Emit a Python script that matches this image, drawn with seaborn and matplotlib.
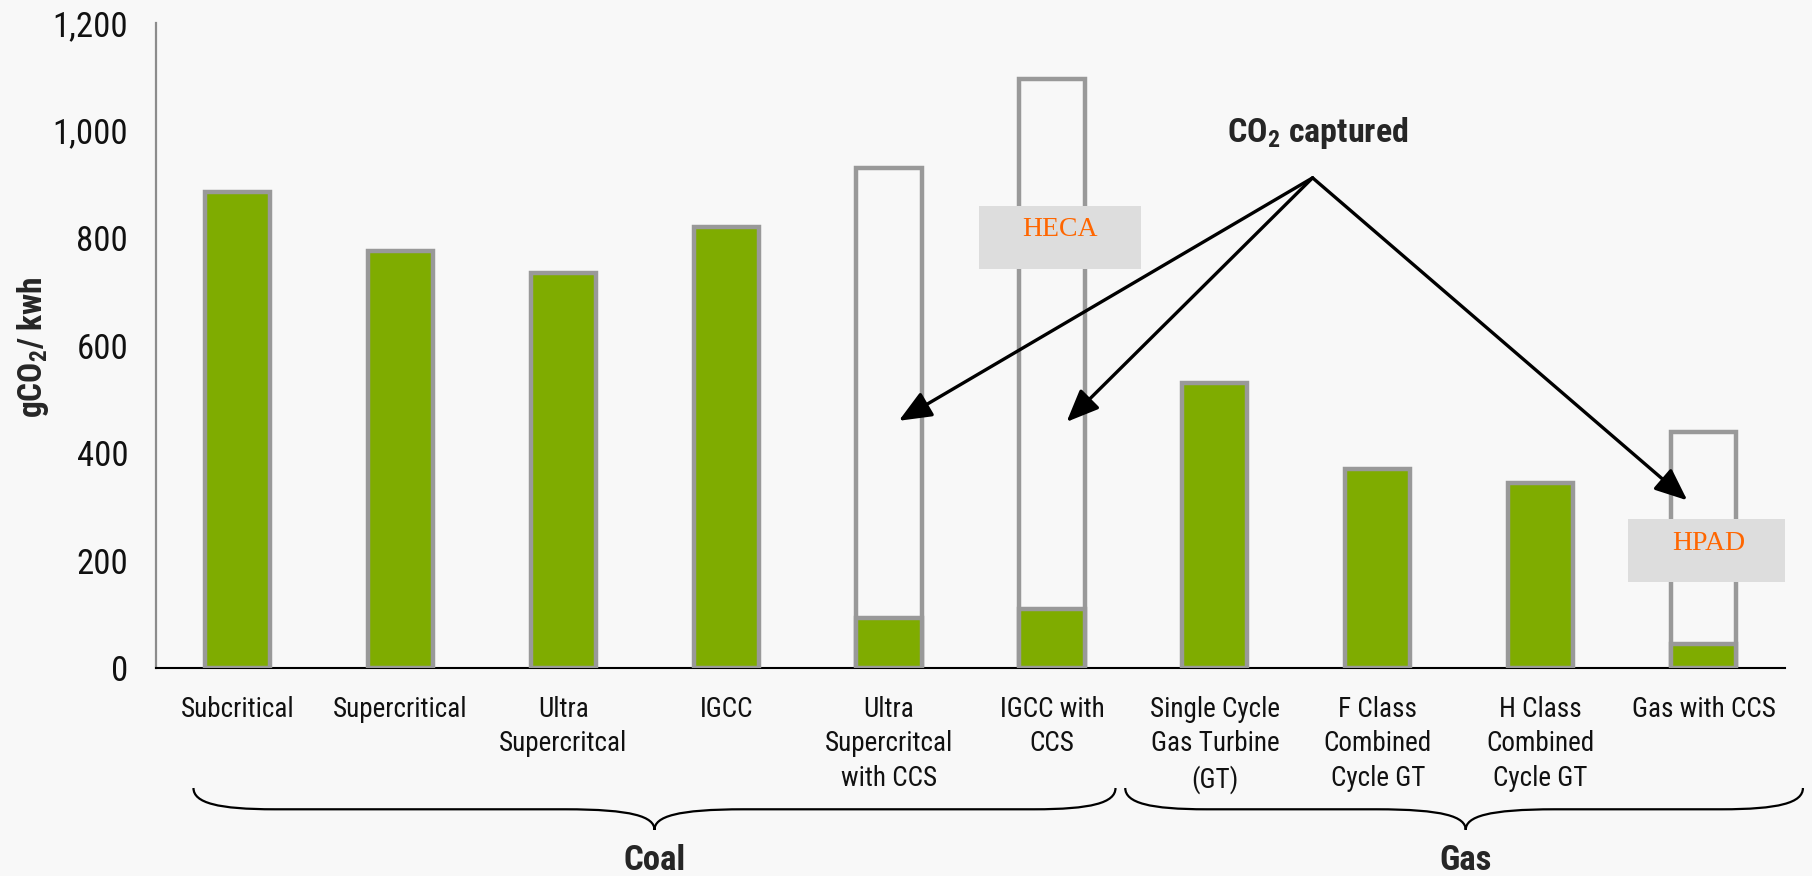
import numpy as np
import pandas as pd
import matplotlib
matplotlib.use("Agg")
import matplotlib.pyplot as plt
import matplotlib.transforms as mtransforms
from matplotlib import font_manager as fm
from matplotlib.path import Path
from matplotlib.patches import PathPatch, Rectangle
import seaborn as sns

# ---- data -------------------------------------------------------------
categories = [
    "Subcritical", "Supercritical", "Ultra\nSupercritcal", "IGCC",
    "Ultra\nSupercritcal\nwith CCS", "IGCC with\nCCS",
    "Single Cycle\nGas Turbine\n(GT)", "F Class\nCombined\nCycle GT",
    "H Class\nCombined\nCycle GT", "Gas with CCS",
]
# emissions to atmosphere (gCO2 / kWh)
emitted = [885, 775, 735, 820, 93, 110, 530, 370, 345, 45]
# gross CO2 produced before capture (only for CCS plants)
before_capture = [np.nan, np.nan, np.nan, np.nan, 930, 1095,
                  np.nan, np.nan, np.nan, 440]
fuel_groups = ["Coal", "Gas"]
yticks = [0, 200, 400, 600, 800, 1000, 1200]
project_labels = ["HECA", "HPAD"]

# ---- style ------------------------------------------------------------
BG = "#F8F8F8"
GREEN = "#7FAC00"
GRAY = "#999999"
BOXGRAY = "#DDDDDD"
ORANGE = "#FF6600"

sns.set_theme(style="white")


def narrow_sans():
    """Pick the narrowest sans-serif face that is installed."""
    entries = fm.fontManager.ttflist
    names = {f.name for f in entries}
    for name in ["Liberation Sans Narrow", "Arial Narrow", "Nimbus Sans Narrow",
                 "Roboto Condensed", "Open Sans Condensed", "Noto Sans Condensed",
                 "DejaVu Sans Condensed"]:
        if name in names:
            return name, "normal"
    for f in entries:
        if ("Narrow" in f.name or "Condensed" in f.name) and "Serif" not in f.name \
                and "Mono" not in f.name:
            return f.name, "normal"
    for fam in ["Roboto", "Noto Sans", "Open Sans"]:
        for f in entries:
            if f.name == fam and str(f.stretch) in ("condensed", "semi-condensed",
                                                    "extra-condensed"):
                return fam, str(f.stretch)
    return "DejaVu Sans", "condensed"


SANS, STRETCH = narrow_sans()
plt.rcParams["font.family"] = [SANS, "DejaVu Sans"]
plt.rcParams["font.stretch"] = STRETCH
plt.rcParams["mathtext.fontset"] = "custom"
plt.rcParams["mathtext.rm"] = SANS
plt.rcParams["mathtext.bf"] = SANS + ":bold"

df = pd.DataFrame({"category": categories,
                   "emitted": emitted,
                   "gross": before_capture})

fig = plt.figure(figsize=(18.12, 8.76), dpi=100, facecolor=BG)
ax = fig.add_axes([0.0861, 0.2374, 0.899, 0.7363])
ax.set_facecolor(BG)

# gross (pre-capture) outline bars, then emitted bars on top
sns.barplot(data=df, x="category", y="gross", order=categories,
            fill=False, color=GRAY, linewidth=3.2, width=0.4,
            errorbar=None, ax=ax, zorder=2)
sns.barplot(data=df, x="category", y="emitted", order=categories,
            color=GREEN, saturation=1, edgecolor=GRAY, linewidth=3.2,
            width=0.4, errorbar=None, ax=ax, zorder=3)

ax.set_xlim(-0.5, len(categories) - 0.5)
ax.set_ylim(0, 1200)
ax.set_xlabel("")
ax.set_ylabel("")

for s in ("top", "right"):
    ax.spines[s].set_visible(False)
ax.spines["left"].set_color("#8C8C8C")
ax.spines["left"].set_linewidth(1.6)
ax.spines["bottom"].set_color("black")
ax.spines["bottom"].set_linewidth(1.5)

ax.set_yticks(yticks)
ax.set_yticklabels([f"{v:,}" for v in yticks])
ax.tick_params(axis="y", direction="out", length=8, width=1.3,
               color="#8C8C8C", pad=12, labelsize=25, labelcolor="#111111")

# category separators as major ticks, names on minor ticks
ax.set_xticks(np.arange(-0.5, len(categories), 1.0))
ax.set_xticklabels([])
ax.set_xticks(np.arange(len(categories)), minor=True)
ax.set_xticklabels(categories, minor=True, linespacing=1.35)
ax.tick_params(axis="x", which="major", direction="out", length=9,
               width=1.3, color="black")
ax.tick_params(axis="x", which="minor", length=0, pad=20, labelsize=19.5,
               labelcolor="#111111")

fig.text(33 / 1812, 1 - 347 / 876, r"gCO$_\mathbf{2}$/ kwh", rotation=90,
         ha="center", va="center", fontsize=24, fontweight="bold")

# project call-out boxes
boxes = [(4.555, 742, 0.994, 118, 815), (8.537, 160, 0.988, 117, 232)]
for label, (bx, by, bw, bh, ty) in zip(project_labels, boxes):
    ax.add_patch(Rectangle((bx, by), bw, bh, facecolor=BOXGRAY,
                           edgecolor="none", zorder=5))
    ax.text(bx + bw / 2, ty, label, ha="center", va="center",
            fontsize=20, color=ORANGE, family="Liberation Serif", zorder=6)

# CO2 captured arrows
ax.text(6.63, 995, r"CO$_\mathbf{2}$ captured", ha="center", va="center",
        fontsize=24.5, fontweight="bold", zorder=6)
origin = (6.6, 912)
for tip in [(4.06, 460), (5.09, 458), (8.90, 312)]:
    ax.annotate("", xy=tip, xytext=origin,
                arrowprops=dict(arrowstyle="-|>,head_length=0.9,head_width=0.38",
                                mutation_scale=22, lw=2.4, color="black",
                                shrinkA=0, shrinkB=0),
                zorder=7)

# group braces beneath the category names
trans = mtransforms.blended_transform_factory(ax.transData, ax.transAxes)


def brace(x0, x1, xm, y_end=-0.186, y_mid=-0.219, y_tip=-0.251,
          d_end=0.5, d_tip=0.55):
    verts = [
        (x0, y_end),
        (x0, y_end + 0.7 * (y_mid - y_end)), (x0 + 0.3 * d_end, y_mid),
        (x0 + d_end, y_mid),
        (xm - d_tip, y_mid),
        (xm - 0.25 * d_tip, y_mid), (xm, y_mid + 0.35 * (y_tip - y_mid)),
        (xm, y_tip),
        (xm, y_mid + 0.35 * (y_tip - y_mid)), (xm + 0.25 * d_tip, y_mid),
        (xm + d_tip, y_mid),
        (x1 - d_end, y_mid),
        (x1 - 0.3 * d_end, y_mid), (x1, y_end + 0.7 * (y_mid - y_end)),
        (x1, y_end),
    ]
    codes = [Path.MOVETO,
             Path.CURVE4, Path.CURVE4, Path.CURVE4,
             Path.LINETO,
             Path.CURVE4, Path.CURVE4, Path.CURVE4,
             Path.CURVE4, Path.CURVE4, Path.CURVE4,
             Path.LINETO,
             Path.CURVE4, Path.CURVE4, Path.CURVE4]
    ax.add_patch(PathPatch(Path(verts, codes), facecolor="none",
                           edgecolor="black", lw=1.6, transform=trans,
                           clip_on=False))


brace_spans = [(-0.27, 5.39, 2.56), (5.45, 9.61, 7.54)]
for name, (x0, x1, xm) in zip(fuel_groups, brace_spans):
    brace(x0, x1, xm)
    ax.text(xm, -0.298, name, transform=trans, ha="center", va="center",
            fontsize=25, fontweight="bold", clip_on=False)

fig.savefig("out.png", dpi=100, facecolor=BG)
